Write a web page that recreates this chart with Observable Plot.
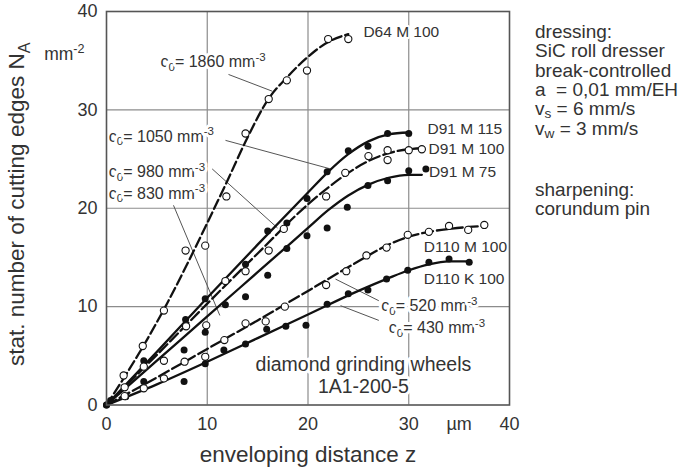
<!DOCTYPE html>
<html><head><meta charset="utf-8">
<script src="https://cdn.jsdelivr.net/npm/d3@7"></script>
<script src="https://cdn.jsdelivr.net/npm/@observablehq/plot@0.6"></script>
<style>
html,body{margin:0;padding:0;background:#fff;}
#wrap{position:relative;width:686px;height:467px;font-family:"Liberation Sans",Arial,sans-serif;color:#333;}
.note{position:absolute;left:535px;font-size:19px;line-height:19.3px;height:19.3px;white-space:pre;color:#333;}
.note sub{font-size:0.72em;line-height:0;vertical-align:baseline;position:relative;top:0.22em;}
</style></head><body>
<div id="wrap"><div id="chart"></div></div>
<script>
// ---- axis ticks
const xTicks = [0, 10, 20, 30, 40];
const yTicks = [0, 10, 20, 30, 40];

// ---- fitted curves
const d64CurveX = [0, 2, 4, 6, 8, 10, 12, 14, 16, 18, 20, 22, 24];
const d64CurveY = [0, 3.2, 6.6, 10.3, 14.3, 18.5, 22.8, 27.2, 31.0, 33.4, 35.4, 36.9, 37.7];
const m115CurveX = [0, 5, 10, 15, 20, 22, 24, 26, 28, 30];
const m115CurveY = [0, 5.4, 10.9, 16.3, 21.6, 23.7, 25.5, 26.8, 27.5, 27.7];
const m100CurveX = [0, 5, 10, 15, 20, 22, 24, 26, 28, 30, 31.3];
const m100CurveY = [0, 5.1, 10.3, 15.4, 20.4, 22.1, 23.6, 24.8, 25.6, 26.0, 26.1];
const m75CurveX = [0, 5, 10, 15, 20, 22, 24, 26, 28, 30, 31.3];
const m75CurveY = [0, 4.5, 9.0, 13.5, 18.0, 19.8, 21.3, 22.4, 23.1, 23.4, 23.4];
const d110mCurveX = [0, 5, 10, 15, 20, 25, 28, 30, 32, 34, 36, 37.5];
const d110mCurveY = [0, 2.8, 5.7, 8.6, 11.6, 14.6, 16.3, 17.1, 17.6, 17.9, 18.1, 18.2];
const d110kCurveX = [0, 5, 10, 15, 20, 25, 28, 30, 32, 34, 36];
const d110kCurveY = [0, 2.1, 4.4, 6.8, 9.2, 11.6, 12.9, 13.7, 14.3, 14.6, 14.6];

// ---- measured points
const d64PtsX = [1.7, 3.6, 5.7, 7.85, 9.8, 11.9, 13.8, 16.1, 17.9, 19.9, 22.0, 24.0];
const d64PtsY = [3.0, 6.0, 9.6, 15.7, 16.2, 21.2, 27.6, 31.1, 33.0, 34.0, 37.2, 37.2];
const m115PtsX = [0, 0.4, 1.9, 3.7, 7.85, 9.8, 13.8, 16.0, 17.9, 19.9, 21.9, 24.0, 25.95, 27.9, 30.0];
const m115PtsY = [0, 0.45, 0.85, 4.5, 8.7, 10.8, 14.3, 17.7, 18.5, 21.0, 23.7, 25.85, 26.3, 27.6, 27.6];
const m100PtsX = [1.8, 3.7, 5.7, 7.9, 9.9, 11.8, 13.8, 16.1, 17.6, 21.8, 23.7, 26.0, 27.9, 27.9, 30.0, 31.3];
const m100PtsY = [1.8, 3.9, 4.5, 8.0, 8.1, 12.6, 13.6, 15.7, 17.9, 21.2, 23.6, 25.3, 25.9, 24.9, 25.9, 26.0];
const m75PtsX = [1.9, 3.7, 7.7, 9.8, 11.8, 13.8, 16.0, 17.9, 19.9, 21.9, 23.9, 25.95, 27.9, 30.0, 31.7];
const m75PtsY = [0.9, 2.4, 5.6, 7.4, 10.2, 11.0, 13.2, 15.9, 17.2, 18.0, 20.1, 22.3, 22.8, 23.8, 24.0];
const d110mPtsX = [1.8, 3.7, 5.7, 7.75, 9.8, 11.7, 13.8, 15.8, 17.7, 21.8, 23.8, 25.8, 27.8, 29.9, 32.0, 34.0, 35.9, 37.5];
const d110mPtsY = [0.9, 1.7, 2.7, 4.4, 4.9, 6.6, 8.3, 8.5, 10.0, 12.2, 13.6, 15.2, 16.0, 17.3, 17.6, 18.2, 17.8, 18.3];
const d110kPtsX = [0, 7.7, 9.8, 11.65, 13.8, 15.9, 17.8, 19.8, 21.9, 24.0, 25.95, 27.8, 29.9, 32.0, 34.0, 36.0];
const d110kPtsY = [0, 2.4, 4.2, 5.6, 6.2, 7.7, 8.0, 8.1, 10.25, 11.3, 11.7, 12.8, 13.7, 14.5, 14.85, 14.5];

// ---- series labels
const seriesNames = ["D64 M 100", "D91 M 115", "D91 M 100", "D91 M 75", "D110 M 100", "D110 K 100"];
const seriesLabelX = [25.5, 31.86, 31.96, 32.0, 31.49, 31.49];
const seriesLabelY = [37.87, 28.08, 25.97, 23.67, 16.04, 12.83];

// ---- concentration annotations and leader lines
const annText = ["c_{0}= 1860 mm^{-3}", "c_{0}= 1050 mm^{-3}", "c_{0}= 980 mm^{-3}", "c_{0}= 830 mm^{-3}", "c_{0}= 520 mm^{-3}", "c_{0}= 430 mm^{-3}"];
const annX = [5.36, 0.23, 0.23, 0.23, 27.27, 28.02];
const annY = [34.88, 27.3, 23.7, 21.5, 10.05, 7.8];
const leadX1 = [12.11, 11.81, 10.49, 6.65, 27.03, 27.03];
const leadY1 = [33.6, 26.9, 24.0, 20.3, 10.6, 8.6];
const leadX2 = [16.45, 22.23, 16.97, 11.25, 22.73, 23.23];
const leadY2 = [31.9, 24.0, 18.0, 9.1, 12.8, 10.1];

const wheelText = ["diamond grinding wheels\n1A1-200-5"];
const wheelX = [25.5], wheelY = [3.05];

const xTitle = "enveloping distance z";
const yTitle = "stat. number of cutting edges N_{A}";
const xUnit = "µm", yUnit = "mm^{-2}";
const notes1 = ["dressing:", "SiC roll dresser", "break-controlled", "a  = 0,01 mm/EH", "v<sub>s</sub> = 6 mm/s", "v<sub>w</sub> = 3 mm/s"];
const notes2 = ["sharpening:", "corundum pin"];

// ---- build tables
const tab = (xs, ys) => xs.map((x, i) => ({x, y: ys[i]}));
const curves = [
  {d: tab(d64CurveX, d64CurveY), dash: "10,4"},
  {d: tab(m115CurveX, m115CurveY), dash: null},
  {d: tab(m100CurveX, m100CurveY), dash: "11,4"},
  {d: tab(m75CurveX, m75CurveY), dash: null},
  {d: tab(d110mCurveX, d110mCurveY), dash: "11,4"},
  {d: tab(d110kCurveX, d110kCurveY), dash: null}
];
const openPts = [...tab(d64PtsX, d64PtsY), ...tab(m100PtsX, m100PtsY), ...tab(d110mPtsX, d110mPtsY)];
const filledPts = [...tab(m115PtsX, m115PtsY), ...tab(m75PtsX, m75PtsY), ...tab(d110kPtsX, d110kPtsY)];
const seriesLabels = seriesNames.map((t, i) => ({t, x: seriesLabelX[i], y: seriesLabelY[i]}));
const anns = annText.map((t, i) => ({t, x: annX[i], y: annY[i]}));
const leaders = leadX1.map((x1, i) => ({x1, y1: leadY1[i], x2: leadX2[i], y2: leadY2[i]}));
const ink = "#333";

const chart = Plot.plot({
  width: 686, height: 467,
  marginLeft: 106, marginRight: 177, marginTop: 11, marginBottom: 62.5,
  x: {domain: [0, 40]},
  y: {domain: [0, 40]},
  style: {fontFamily: "'Liberation Sans', Arial, sans-serif", color: ink, background: "white", overflow: "visible"},
  marks: [
    Plot.gridX(xTicks.slice(1, -1), {stroke: "#8c8c8c", strokeOpacity: 1, strokeWidth: 1.2}),
    Plot.gridY(yTicks.slice(1, -1), {stroke: "#8c8c8c", strokeOpacity: 1, strokeWidth: 1.2}),
    Plot.text(anns, {x: "x", y: "y", text: "t", textAnchor: "start", lineAnchor: "middle", fontSize: 16, fill: ink, stroke: "white", strokeWidth: 6, paintOrder: "stroke", strokeLinejoin: "round"}),
    Plot.text(wheelText, {x: wheelX, y: wheelY, text: d => d, textAnchor: "middle", lineAnchor: "middle", fontSize: 19.5, lineHeight: 1.15, fill: ink, stroke: "white", strokeWidth: 6, paintOrder: "stroke", strokeLinejoin: "round"}),
    Plot.text(seriesLabels, {x: "x", y: "y", text: "t", textAnchor: "start", lineAnchor: "middle", fontSize: 15.5, fill: ink, stroke: "white", strokeWidth: 4, paintOrder: "stroke", strokeLinejoin: "round"}),
    Plot.link(leaders, {x1: "x1", y1: "y1", x2: "x2", y2: "y2", stroke: "#555", strokeWidth: 1}),
    ...curves.map(c => Plot.line(c.d, {x: "x", y: "y", curve: "monotone-x", stroke: "#111", strokeWidth: 2.3, strokeDasharray: c.dash || undefined})),
    Plot.dot(filledPts, {x: "x", y: "y", r: 3.5, fill: "#111", stroke: "none"}),
    Plot.dot(openPts, {x: "x", y: "y", r: 3.6, fill: "white", stroke: "#111", strokeWidth: 1.1}),
    Plot.frame({stroke: "#555", strokeWidth: 1.6}),
    Plot.axisX(xTicks, {tickSize: 0, tickPadding: 12, fontSize: 18, label: null, fill: ink}),
    Plot.axisY(yTicks, {tickSize: 0, tickPadding: 9, fontSize: 18, label: null, fill: ink}),
    Plot.text([xUnit], {x: [35], frameAnchor: "bottom", lineAnchor: "top", dy: 12, fontSize: 18, fill: ink}),
    Plot.text([yUnit], {y: [35.6], frameAnchor: "left", textAnchor: "end", lineAnchor: "middle", dx: -22, fontSize: 17.5, fill: ink}),
    Plot.text([xTitle], {frameAnchor: "bottom", lineAnchor: "top", dy: 41, fontSize: 22.5, fill: ink}),
    Plot.text([yTitle], {frameAnchor: "left", rotate: -90, textAnchor: "middle", lineAnchor: "top", dx: -98, dy: -4, fontSize: 22.5, fill: ink})
  ]
});

// turn _{..} and ^{..} into real sub/superscripts
function richify(root) {
  const NS = "http://www.w3.org/2000/svg";
  root.querySelectorAll("text").forEach(t => {
    if (t.querySelector("tspan")) return;
    const s = t.textContent;
    if (!/[_^]\{/.test(s)) return;
    t.textContent = "";
    const re = /([_^])\{([^}]*)\}/g;
    let last = 0, m, pending = 0;
    const add = (str, kind) => {
      const ts = document.createElementNS(NS, "tspan");
      ts.textContent = str;
      if (kind) {
        ts.setAttribute("font-size", "72%");
        const shift = kind === "_" ? 0.32 : -0.55;
        ts.setAttribute("dy", shift + "em");
        pending = -shift * 0.72;
      } else if (pending) {
        ts.setAttribute("dy", pending + "em");
        pending = 0;
      }
      t.appendChild(ts);
    };
    while ((m = re.exec(s))) {
      if (m.index > last) add(s.slice(last, m.index));
      add(m[2], m[1]);
      last = re.lastIndex;
    }
    if (last < s.length) add(s.slice(last));
  });
}
richify(chart);
const wrap = document.getElementById("wrap");
document.getElementById("chart").appendChild(chart);

function addNotes(lines, top) {
  lines.forEach((line, i) => {
    const div = document.createElement("div");
    div.className = "note";
    div.style.top = (top + i * 19.3) + "px";
    div.innerHTML = line;
    wrap.appendChild(div);
  });
}
addNotes(notes1, 22);
addNotes(notes2, 180);
</script>
</body></html>
